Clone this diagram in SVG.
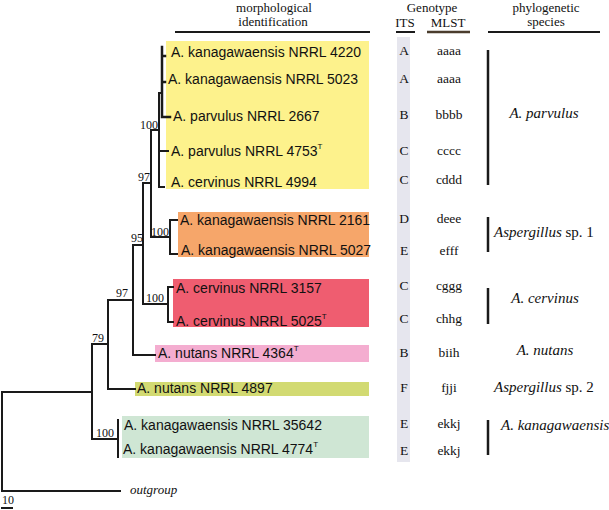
<svg xmlns="http://www.w3.org/2000/svg" width="609" height="510" viewBox="0 0 609 510">
<style>
.hd{font-family:"Liberation Serif","Times New Roman",serif;font-size:13px;fill:#111}
.lb{font-family:"Liberation Sans",Arial,sans-serif;font-size:14px;fill:#111}
.sup{font-size:8px}
.bs{font-family:"Liberation Serif","Times New Roman",serif;font-size:12px;fill:#111;text-anchor:end}
.gt{font-family:"Liberation Serif","Times New Roman",serif;font-size:13.5px;fill:#111;text-anchor:middle}
.sp{font-family:"Liberation Serif","Times New Roman",serif;font-size:15px;fill:#111}
.it{font-style:italic}
.br{fill:none;stroke:#1a1a1a;stroke-width:2;stroke-linecap:square}
.bar{stroke:#1a1a1a;stroke-width:2.5}
.hl{stroke:#1a1a1a;stroke-width:2}
</style>
<rect width="609" height="510" fill="#fff"/>

<!-- headers -->
<g id="headers">
<text class="hd" x="274" y="12" text-anchor="middle">morphological</text>
<text class="hd" x="273" y="26" text-anchor="middle">identification</text>
<line class="hl" x1="175" y1="32" x2="370" y2="32"/>
<text class="hd" x="432" y="12" text-anchor="middle">Genotype</text>
<text class="hd" x="405" y="27" text-anchor="middle">ITS</text>
<text class="hd" x="448" y="27" text-anchor="middle">MLST</text>
<line class="hl" x1="396" y1="32" x2="415" y2="32"/>
<line x1="427" y1="32" x2="470" y2="32" stroke="#4a3c2c" stroke-width="2.5"/>
<text class="hd" x="546" y="12" text-anchor="middle">phylogenetic</text>
<text class="hd" x="546" y="26" text-anchor="middle">species</text>
<line class="hl" x1="488" y1="32" x2="600" y2="32"/>
</g>

<!-- ITS band -->
<rect x="397" y="37" width="13" height="425" fill="#e6e6ee"/>

<!-- colored boxes with labels -->
<g id="clade-parvulus">
<rect x="166" y="41" width="203" height="148" fill="#fdf28c"/>
<text class="lb" x="171" y="57">A. kanagawaensis NRRL 4220</text>
<text class="lb" x="168" y="84">A. kanagawaensis NRRL 5023</text>
<text class="lb" x="173" y="121">A. parvulus NRRL 2667</text>
<text class="lb" x="171" y="156">A. parvulus NRRL 4753<tspan class="sup" dy="-7">T</tspan></text>
<text class="lb" x="171" y="187">A. cervinus NRRL 4994</text>
</g>
<g id="clade-sp1">
<rect x="178" y="212" width="191" height="45" fill="#f6a66a"/>
<text class="lb" x="180" y="225">A. kanagawaensis NRRL 2161</text>
<text class="lb" x="181" y="255">A. kanagawaensis NRRL 5027</text>
</g>
<g id="clade-cervinus">
<rect x="173" y="279" width="196" height="48" fill="#ef5d70"/>
<text class="lb" x="176" y="293">A. cervinus NRRL 3157</text>
<text class="lb" x="176" y="326">A. cervinus NRRL 5025<tspan class="sup" dy="-7">T</tspan></text>
</g>
<g id="clade-nutans">
<rect x="155" y="345" width="214" height="17" fill="#f4add0"/>
<text class="lb" x="158" y="358">A. nutans NRRL 4364<tspan class="sup" dy="-7">T</tspan></text>
</g>
<g id="clade-sp2">
<rect x="135" y="382" width="234" height="14" fill="#d2da72"/>
<text class="lb" x="137" y="393">A. nutans NRRL 4897</text>
</g>
<g id="clade-kanagawaensis">
<rect x="122" y="416" width="247" height="42" fill="#cfe6d4"/>
<text class="lb" x="124" y="430">A. kanagawaensis NRRL 35642</text>
<text class="lb" x="123" y="454">A. kanagawaensis NRRL 4774<tspan class="sup" dy="-7">T</tspan></text>
</g>

<!-- tree connectors -->
<g id="connectors">
<path class="br" d="M120,491 H2 V392 H92"/>
<path class="br" d="M108,344 H92 V439 H118"/>
<path class="br" d="M118,420 V457"/>
<path class="br" d="M133,300 H108 V389 H135"/>
<path class="br" d="M143,245 H133 V355 H155"/>
<path class="br" d="M151,183 H143 V304 H168"/>
<path class="br" d="M173,287 H168 V322 H173"/>
<path class="br" d="M159,130 H151 V237 H170"/>
<path class="br" d="M177,220 H170 V254 H177"/>
<path class="br" d="M162,93 H159 V187 H164 M159,151 H168"/>
<path class="br" d="M162,47 V117 H170 M162,56 H165 M162,82 H165" style="stroke-width:2.5"/>
<path class="br" d="M2,508 H12"/>
</g>

<!-- bootstrap values -->
<g id="bootstrap">
<text class="bs" x="158" y="129">100</text>
<text class="bs" x="150" y="181">97</text>
<text class="bs" x="169" y="236">100</text>
<text class="bs" x="143" y="242">95</text>
<text class="bs" x="164" y="302">100</text>
<text class="bs" x="128" y="297">97</text>
<text class="bs" x="104" y="342">79</text>
<text class="bs" x="114" y="437">100</text>
<text class="hd it" x="130" y="494">outgroup</text>
<text class="bs" x="13" y="504" style="text-anchor:start" dx="-11">10</text>
</g>

<!-- genotypes -->
<g id="genotypes">
<text class="gt" x="404" y="55">A</text><text class="gt" x="449" y="55">aaaa</text>
<text class="gt" x="404" y="83">A</text><text class="gt" x="449" y="83">aaaa</text>
<text class="gt" x="404" y="119">B</text><text class="gt" x="449" y="119">bbbb</text>
<text class="gt" x="404" y="155">C</text><text class="gt" x="449" y="155">cccc</text>
<text class="gt" x="404" y="184">C</text><text class="gt" x="449" y="184">cddd</text>
<text class="gt" x="404" y="223">D</text><text class="gt" x="449" y="223">deee</text>
<text class="gt" x="404" y="255">E</text><text class="gt" x="449" y="255">efff</text>
<text class="gt" x="404" y="290">C</text><text class="gt" x="449" y="290">cggg</text>
<text class="gt" x="404" y="323">C</text><text class="gt" x="449" y="323">chhg</text>
<text class="gt" x="404" y="357">B</text><text class="gt" x="449" y="357">biih</text>
<text class="gt" x="404" y="392">F</text><text class="gt" x="449" y="392">fjji</text>
<text class="gt" x="404" y="428">E</text><text class="gt" x="449" y="428">ekkj</text>
<text class="gt" x="404" y="455">E</text><text class="gt" x="449" y="455">ekkj</text>
</g>

<!-- phylogenetic species -->
<g id="species">
<line class="bar" x1="488" y1="50" x2="488" y2="185"/>
<text class="sp it" x="544" y="118" text-anchor="middle">A. parvulus</text>
<line class="bar" x1="488" y1="217" x2="488" y2="252"/>
<text class="sp" x="494" y="237"><tspan class="it">Aspergillus</tspan> sp. 1</text>
<line class="bar" x1="488" y1="288" x2="488" y2="324"/>
<text class="sp it" x="545" y="303" text-anchor="middle">A. cervinus</text>
<text class="sp it" x="545" y="355" text-anchor="middle">A. nutans</text>
<text class="sp" x="494" y="392"><tspan class="it">Aspergillus</tspan> sp. 2</text>
<line class="bar" x1="488" y1="420" x2="488" y2="455"/>
<text class="sp it" x="501" y="430">A. kanagawaensis</text>
</g>
</svg>
